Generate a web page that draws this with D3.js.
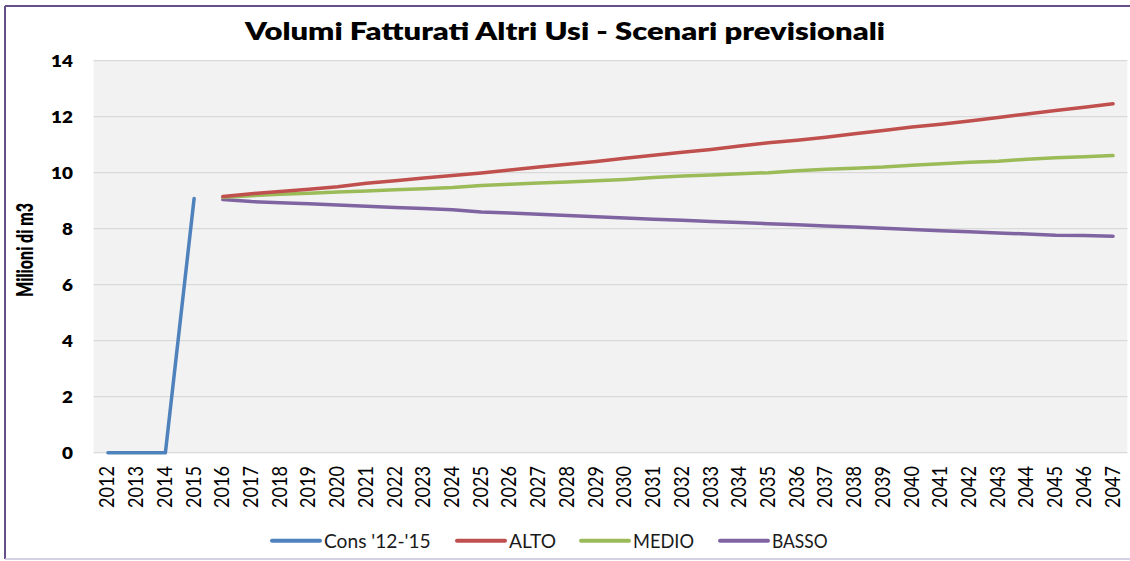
<!DOCTYPE html>
<html>
<head>
<meta charset="utf-8">
<script src="https://cdn.jsdelivr.net/npm/d3@7"></script>
<style>
  body { margin: 0; background: #fff; }
  svg { display: block; }
  text { font-family: Lato, "Open Sans", sans-serif; fill: #000; }
</style>
</head>
<body>
<svg width="1130" height="561"></svg>
<script>
const title = 'Volumi Fatturati Altri Usi - Scenari previsionali'
const yTitle = 'Milioni di m3'

const years = ['2012', '2013', '2014', '2015', '2016', '2017', '2018', '2019', '2020', '2021',
  '2022', '2023', '2024', '2025', '2026', '2027', '2028', '2029', '2030', '2031', '2032',
  '2033', '2034', '2035', '2036', '2037', '2038', '2039', '2040', '2041', '2042', '2043',
  '2044', '2045', '2046', '2047']
const yTicks = [0, 2, 4, 6, 8, 10, 12, 14]

// consuntivo 2012-2015
const consYears = ['2012', '2013', '2014', '2015']
const cons = [0, 0, 0, 9.08]

// scenari 2016-2047
const scenYears = years.slice(4)
const alto = [9.15, 9.25, 9.33, 9.41, 9.5, 9.62, 9.71, 9.81, 9.9, 9.99, 10.1, 10.2, 10.3, 10.4,
  10.52, 10.62, 10.73, 10.83, 10.95, 11.07, 11.16, 11.27, 11.39, 11.51, 11.63, 11.73, 11.85,
  11.97, 12.1, 12.22, 12.34, 12.46]
const medio = [9.12, 9.18, 9.23, 9.27, 9.31, 9.35, 9.39, 9.43, 9.47, 9.54, 9.59, 9.63, 9.67,
  9.71, 9.76, 9.83, 9.88, 9.92, 9.96, 10.0, 10.07, 10.12, 10.16, 10.2, 10.27, 10.32, 10.37,
  10.41, 10.48, 10.53, 10.57, 10.61]
const basso = [9.04, 8.97, 8.93, 8.89, 8.85, 8.8, 8.76, 8.72, 8.68, 8.6, 8.56, 8.52, 8.47, 8.43,
  8.38, 8.34, 8.3, 8.26, 8.22, 8.18, 8.14, 8.1, 8.06, 8.02, 7.97, 7.93, 7.89, 7.85, 7.81, 7.77,
  7.76, 7.73]

const seriesNames = ["Cons '12-'15", 'ALTO', 'MEDIO', 'BASSO']
const seriesColors = ['#4f81bd', '#c0504d', '#9bbb59', '#8064a2']

const svg = d3.select('svg')

// Cornice del grafico
svg.append('line').attr('x1', 5).attr('x2', 1130).attr('y1', 6).attr('y2', 6)
  .attr('stroke', '#65508a').attr('stroke-width', 2)
svg.append('line').attr('x1', 5).attr('x2', 5).attr('y1', 6).attr('y2', 559)
  .attr('stroke', '#65508a').attr('stroke-width', 2)
svg.append('line').attr('x1', 5).attr('x2', 1130).attr('y1', 559).attr('y2', 559)
  .attr('stroke', '#c8c0dd').attr('stroke-width', 1.5)

const x = d3.scaleBand().domain(years).range([93.6, 1127.4]).padding(0)
const xc = d => x(d) + x.bandwidth() / 2
const y = d3.scaleLinear().domain([0, 14]).range([452.7, 60.7])

// Area del tracciato
svg.append('rect')
  .attr('x', x.range()[0]).attr('y', y(14))
  .attr('width', x.range()[1] - x.range()[0]).attr('height', y(0) - y(14))
  .attr('fill', '#f2f2f2')

svg.append('g').selectAll('line').data(yTicks).join('line')
  .attr('x1', x.range()[0]).attr('x2', x.range()[1])
  .attr('y1', d => y(d)).attr('y2', d => y(d))
  .attr('stroke', '#d9d9d9').attr('stroke-width', 1.2)

// Etichette asse Y
svg.append('g').selectAll('text').data(yTicks).join('text')
  .attr('transform', d => `translate(73,${y(d) + 6}) scale(1.18,1)`)
  .attr('text-anchor', 'end')
  .style('font-size', '16px').style('font-weight', 800)
  .text(d => d)

svg.append('text')
  .attr('transform', 'translate(33,250) scale(1.25,1) rotate(-90)')
  .attr('text-anchor', 'middle')
  .attr('textLength', 94).attr('lengthAdjust', 'spacingAndGlyphs')
  .style('font-size', '17.5px').style('font-weight', 800)
  .text(yTitle)

// Etichette asse X
svg.append('g').selectAll('text').data(years).join('text')
  .attr('transform', d => `translate(${xc(d) + 6.5},466) scale(1.25,1) rotate(-90)`)
  .attr('text-anchor', 'end')
  .attr('textLength', 42).attr('lengthAdjust', 'spacingAndGlyphs')
  .style('font-size', '17.5px')
  .text(d => d)

// Titolo
svg.append('text')
  .attr('x', 245).attr('y', 40)
  .attr('textLength', 640).attr('lengthAdjust', 'spacingAndGlyphs')
  .style('font-size', '24px').style('font-weight', 800)
  .text(title)

// Linee
const line = d3.line().x(d => xc(d[0])).y(d => y(d[1]))
const seriesData = [
  d3.zip(consYears, cons),
  d3.zip(scenYears, alto),
  d3.zip(scenYears, medio),
  d3.zip(scenYears, basso)
]
// disegno in ordine inverso per avere ALTO sopra agli altri al punto di partenza
svg.append('g').selectAll('path').data(seriesData.map((d, i) => ({ d, i })).reverse()).join('path')
  .attr('d', s => line(s.d))
  .attr('fill', 'none')
  .attr('stroke', s => seriesColors[s.i])
  .attr('stroke-width', 3.5)
  .attr('stroke-linecap', 'round')
  .attr('stroke-linejoin', 'round')

// Legenda
const legendX = [272, 457, 581, 720]
const legendW = [106.7, 47, 61, 55.6]
const legend = svg.append('g').selectAll('g').data(seriesNames).join('g')
  .attr('transform', (d, i) => `translate(${legendX[i]},540.7)`)
legend.append('line')
  .attr('x1', 0).attr('x2', 48)
  .attr('stroke', (d, i) => seriesColors[i])
  .attr('stroke-width', 4)
  .attr('stroke-linecap', 'round')
legend.append('text')
  .attr('x', 52).attr('y', 6.8)
  .attr('textLength', (d, i) => legendW[i]).attr('lengthAdjust', 'spacingAndGlyphs')
  .style('font-size', '19px')
  .style('fill', '#1a1a1a')
  .text(d => d)
</script>
</body>
</html>
